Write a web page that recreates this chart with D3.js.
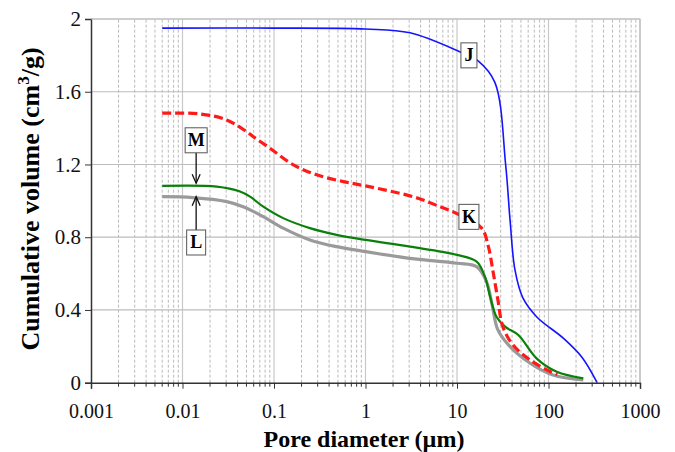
<!DOCTYPE html>
<html>
<head>
<meta charset="utf-8">
<script src="https://cdn.jsdelivr.net/npm/d3@7"></script>
<style>
  body { margin: 0; background: #fff; }
</style>
</head>
<body>
<div id="chart"></div>
<script>
// pore diameter (µm) / cumulative volume (cm3/g)
const xJ = [0.006, 0.1, 1, 3.06, 10.7, 17, 26, 34, 38, 43, 52.5, 75, 145, 232, 340];
const yJ = [1.95, 1.95, 1.945, 1.924, 1.82, 1.77, 1.65, 1.2, 0.895, 0.62, 0.466, 0.36, 0.245, 0.14, 0];

const xK = [0.006, 0.0155, 0.0304, 0.05, 0.059, 0.09, 0.163, 0.293, 0.573, 1, 3.3, 6.5, 10.7, 18.6, 22, 24.6, 28, 31.7, 41, 63, 105, 125];
const yK = [1.482, 1.478, 1.445, 1.381, 1.354, 1.29, 1.198, 1.143, 1.106, 1.082, 1.023, 0.968, 0.923, 0.85, 0.75, 0.62, 0.455, 0.308, 0.207, 0.125, 0.06, 0.045];

const xM = [0.006, 0.0237, 0.0425, 0.0547, 0.0764, 0.126, 0.247, 0.484, 1, 3.06, 10, 16.4, 20.2, 23, 27, 33.5, 46.8, 74, 123, 240];
const yM = [1.082, 1.078, 1.051, 1.023, 0.968, 0.905, 0.85, 0.813, 0.785, 0.748, 0.703, 0.666, 0.583, 0.473, 0.363, 0.308, 0.262, 0.134, 0.06, 0.024];

const xL = [0.006, 0.013, 0.0304, 0.046, 0.0764, 0.126, 0.247, 0.484, 1, 3.06, 10, 16.4, 21, 24, 28, 38, 63, 112, 240];
const yL = [1.023, 1.018, 0.996, 0.968, 0.913, 0.85, 0.785, 0.748, 0.721, 0.684, 0.657, 0.638, 0.556, 0.437, 0.29, 0.198, 0.107, 0.042, 0.015];

const yTicks = [0, 0.4, 0.8, 1.2, 1.6, 2];
const yTickLabels = ["0", "0.4", "0.8", "1.2", "1.6", "2"];
const xTicks = [0.001, 0.01, 0.1, 1, 10, 100, 1000];
const xTickLabels = ["0.001", "0.01", "0.1", "1", "10", "100", "1000"];

const labelNames = ["J", "K", "M", "L"];
const labelX = [13.5, 13.5, 0.0141, 0.0141];
const labelY = [1.8, 0.912, 1.333, 0.771];
const labelW = [16, 20, 22, 19];
const arrowTipY = [null, null, 1.097, 1.023];

const width = 675, height = 452;
const margin = {top: 19, right: 35, bottom: 69.3, left: 91};
const serif = "Liberation Serif";

const svg = d3.select("#chart").append("svg")
    .attr("width", width)
    .attr("height", height)
    .attr("font-family", serif);

const x = d3.scaleLog([0.001, 1000], [margin.left, width - margin.right]);
const y = d3.scaleLinear([0, 2], [height - margin.bottom, margin.top]);

// minor vertical grid (dashed)
const minors = [];
for (let e = -3; e < 3; e++) for (let m = 2; m <= 9; m++) minors.push(m * Math.pow(10, e));

svg.append("g")
    .selectAll("line")
    .data(minors)
    .join("line")
    .attr("x1", d => x(d)).attr("x2", d => x(d))
    .attr("y1", y(0)).attr("y2", y(2))
    .attr("stroke", "#a8a8a8")
    .attr("stroke-width", 0.8)
    .attr("stroke-dasharray", "3,2");

// major grid
svg.append("g")
    .selectAll("line")
    .data(xTicks.slice(1))
    .join("line")
    .attr("x1", d => x(d)).attr("x2", d => x(d))
    .attr("y1", y(0)).attr("y2", y(2))
    .attr("stroke", "#c8c8c8")
    .attr("stroke-width", 1.2);

svg.append("g")
    .selectAll("line")
    .data(yTicks.slice(1))
    .join("line")
    .attr("x1", x(0.001)).attr("x2", x(1000))
    .attr("y1", d => y(d)).attr("y2", d => y(d))
    .attr("stroke", "#bdbdbd")
    .attr("stroke-width", 1.2);

// series
const line = d3.line()
    .x(d => x(d[0]))
    .y(d => y(d[1]))
    .curve(d3.curveCatmullRom.alpha(0.5));

const series = [
    {xs: xL, ys: yL, color: "#9a9a9a", w: 3.2, dash: null},
    {xs: xM, ys: yM, color: "#0a800a", w: 2.2, dash: null},
    {xs: xK, ys: yK, color: "#ff1a1a", w: 3.2, dash: "9,4"},
    {xs: xJ, ys: yJ, color: "#1414ff", w: 1.6, dash: null}
];

svg.append("g")
    .selectAll("path")
    .data(series)
    .join("path")
    .attr("d", s => line(d3.zip(s.xs, s.ys)))
    .attr("fill", "none")
    .attr("stroke", s => s.color)
    .attr("stroke-width", s => s.w)
    .attr("stroke-dasharray", s => s.dash);

// axes
const yAxis = d3.axisLeft(y)
    .tickValues(yTicks)
    .tickFormat((d, i) => yTickLabels[i])
    .tickSize(6)
    .tickPadding(4);

svg.append("g")
    .attr("transform", `translate(${margin.left},0)`)
    .call(yAxis)
    .attr("font-family", serif)
    .attr("font-size", 21)
    .call(g => g.select(".domain").attr("stroke", "#333").attr("stroke-width", 1.5))
    .call(g => g.selectAll(".tick line").attr("stroke", "#333"))
    .call(g => g.selectAll(".tick text").attr("fill", "#111"));

const xAxis = d3.axisBottom(x)
    .tickValues(xTicks)
    .tickFormat((d, i) => xTickLabels[i])
    .tickSize(6)
    .tickPadding(15);

svg.append("g")
    .attr("transform", `translate(0,${y(0)})`)
    .call(xAxis)
    .attr("font-family", serif)
    .attr("font-size", 20)
    .call(g => g.select(".domain").attr("stroke", "#333").attr("stroke-width", 1.5))
    .call(g => g.selectAll(".tick line").attr("stroke", "#333"))
    .call(g => g.selectAll(".tick text").attr("fill", "#111"));

svg.append("g")
    .selectAll("line")
    .data(minors)
    .join("line")
    .attr("x1", d => x(d)).attr("x2", d => x(d))
    .attr("y1", y(0)).attr("y2", y(0) + 4)
    .attr("stroke", "#333");

// top and right border
svg.append("path")
    .attr("d", `M${x(0.001)},${y(2)}H${x(1000)}V${y(0)}`)
    .attr("fill", "none")
    .attr("stroke", "#bdbdbd")
    .attr("stroke-width", 1.2);

// titles
svg.append("text")
    .attr("x", 364)
    .attr("y", 447)
    .attr("text-anchor", "middle")
    .attr("font-weight", "bold")
    .attr("font-size", 24)
    .text("Pore diameter (µm)");

const yTitle = svg.append("text")
    .attr("transform", "translate(39,199) rotate(-90)")
    .attr("text-anchor", "middle")
    .attr("font-weight", "bold")
    .attr("font-size", 26);
yTitle.append("tspan").text("Cumulative volume (cm");
yTitle.append("tspan").attr("dy", -10).attr("font-size", 17).text("3");
yTitle.append("tspan").attr("dy", 10).text("/g)");

// labelled boxes and arrows
const ann = svg.append("g");
labelNames.forEach((name, i) => {
    const cx = x(labelX[i]), cy = y(labelY[i]);
    const w = labelW[i], h = 25;
    if (arrowTipY[i] !== null) {
        const tip = y(arrowTipY[i]);
        const start = tip > cy ? cy + h / 2 : cy - h / 2;
        const dir = tip > cy ? -1 : 1;
        ann.append("line")
            .attr("x1", cx).attr("x2", cx)
            .attr("y1", start).attr("y2", tip)
            .attr("stroke", "#111").attr("stroke-width", 1.3);
        ann.append("path")
            .attr("d", `M${cx - 4},${tip + dir * 9}L${cx},${tip}L${cx + 4},${tip + dir * 9}`)
            .attr("fill", "none")
            .attr("stroke", "#111").attr("stroke-width", 1.3);
    }
    ann.append("rect")
        .attr("x", cx - w / 2).attr("y", cy - h / 2)
        .attr("width", w).attr("height", h)
        .attr("fill", "#fff")
        .attr("stroke", "#555").attr("stroke-width", 1);
    ann.append("text")
        .attr("x", cx).attr("y", cy + 6)
        .attr("text-anchor", "middle")
        .attr("font-weight", "bold")
        .attr("font-size", 18)
        .text(name);
});
</script>
</body>
</html>
